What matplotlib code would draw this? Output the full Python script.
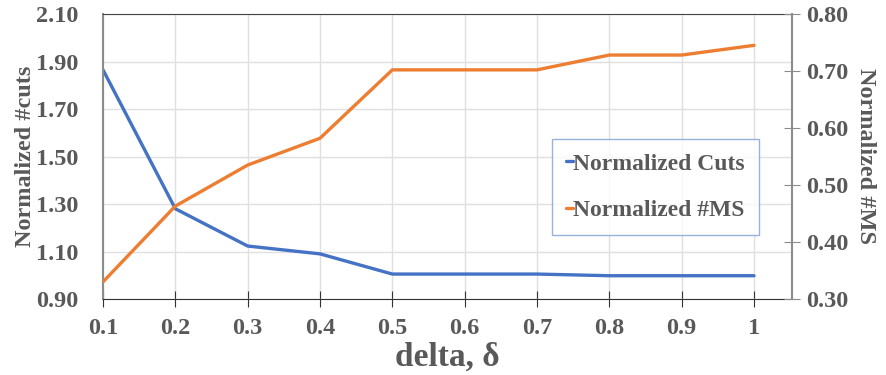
import numpy as np
import matplotlib
matplotlib.use("Agg")
import matplotlib.pyplot as plt

delta = ['0.1', '0.2', '0.3', '0.4', '0.5', '0.6', '0.7', '0.8', '0.9', '1']
norm_cuts = [1.865, 1.28, 1.123, 1.09, 1.005, 1.005, 1.005, 0.998, 0.998, 0.998]
norm_ms = [0.330, 0.463, 0.535, 0.582, 0.702, 0.702, 0.702, 0.728, 0.728, 0.745]

gray = '#595959'
plt.rcParams['font.family'] = ['Liberation Serif', 'DejaVu Serif']
plt.rcParams['font.weight'] = 'bold'

fig = plt.figure(figsize=(8.86, 3.75), dpi=100)
ax = fig.add_axes([103/886, 1 - 299/375, (792 - 103)/886, (299 - 14)/375])
ax2 = ax.twinx()

x = np.arange(len(delta))
l1, = ax.plot(x, norm_cuts, color='#4472C4', lw=2.4, solid_capstyle='round', label='Normalized Cuts')
l2, = ax2.plot(x, norm_ms, color='#ED7D31', lw=2.4, solid_capstyle='round', label='Normalized #MS')

ax.set_xlim(0, 9.525)
ax.set_ylim(0.9, 2.1)
ax2.set_ylim(0.3, 0.8)
ax.set_yticks(np.arange(0.9, 2.11, 0.2))
ax.set_yticklabels(['%.2f' % v for v in np.arange(0.9, 2.11, 0.2)])
ax2.set_yticks(np.arange(0.3, 0.81, 0.1))
ax2.set_yticklabels(['%.2f' % v for v in np.arange(0.3, 0.81, 0.1)])
ax.set_xticks(x)
ax.set_xticklabels(delta)

ax.grid(True, color='#e0e0e0', lw=1)
ax.set_axisbelow(True)

for a in (ax, ax2):
    for s in a.spines.values():
        s.set_visible(False)
ax.spines['bottom'].set_visible(True)
ax.spines['bottom'].set_color('#333333')
ax.spines['left'].set_visible(True)
ax.spines['left'].set_color('#8c8c8c')
ax.spines['left'].set_linewidth(1.5)
ax.spines['top'].set_visible(True)
ax.spines['top'].set_color('#444444')
ax2.spines['right'].set_visible(True)
ax2.spines['right'].set_color('#8c8c8c')
ax2.spines['right'].set_linewidth(1.5)

ax.tick_params(axis='x', direction='inout', length=12, color='#333333', labelsize=17.5, labelcolor=gray, pad=8)
ax.tick_params(axis='y', length=0, labelsize=17.5, labelcolor=gray, pad=18)
ax2.tick_params(axis='y', direction='inout', length=12, color='#8c8c8c', labelsize=17.5, labelcolor=gray, pad=4)

ax.set_xlabel('delta, δ', fontsize=24, color=gray, fontweight='bold', labelpad=2)
ax.set_ylabel('Normalized #cuts', fontsize=17.5, color=gray, fontweight='bold', labelpad=0)
ax2.set_ylabel('Normalized #MS', fontsize=17.5, color=gray, fontweight='bold', rotation=270, labelpad=20)

leg = ax2.legend(handles=[l1, l2], loc='upper left', bbox_to_anchor=((552 - 103)/689, 1 - (139 - 14)/285),
                 frameon=True, fancybox=False, handlelength=0.3, handletextpad=0.0,
                 labelspacing=1.05, borderpad=0.6, borderaxespad=0, fontsize=17, labelcolor=gray)
leg.get_frame().set_edgecolor('#7f9fd8')
leg.get_frame().set_linewidth(1)

plt.savefig('out.png', dpi=100)
